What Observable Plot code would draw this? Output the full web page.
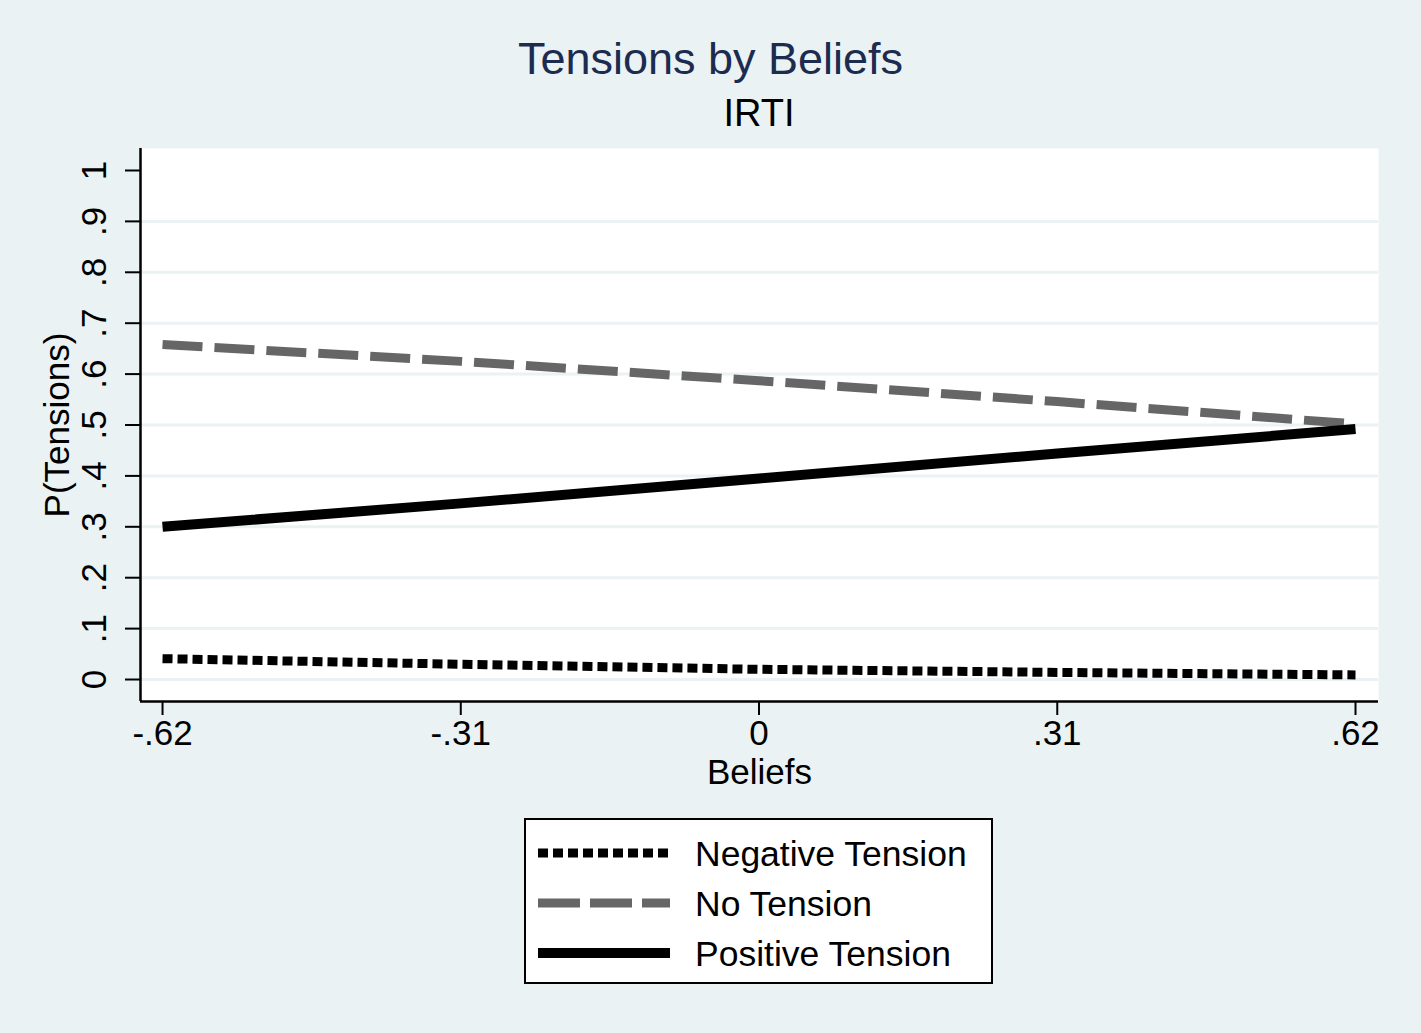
<!DOCTYPE html>
<html><head><meta charset="utf-8">
<script src="https://cdn.jsdelivr.net/npm/d3@7"></script>
<script src="https://cdn.jsdelivr.net/npm/@observablehq/plot@0.6"></script>
<style>
body{margin:0;background:#eaf2f3;width:1421px;height:1033px;position:relative;overflow:hidden;font-family:"Liberation Sans",Arial,sans-serif;}
#title{position:absolute;left:0;top:36px;width:1421px;text-align:center;font-size:45px;line-height:45px;color:#1c2b50;}
#subtitle{position:absolute;left:140px;top:94px;width:1238px;text-align:center;font-size:38px;line-height:38px;color:#000;}
#chart{position:absolute;left:0;top:140px;}
#legend{position:absolute;left:524px;top:818px;width:469px;height:166px;box-sizing:border-box;border:2px solid #000;background:#fff;}
#legend svg{position:absolute;left:-2px;top:-2px;overflow:visible;}
</style></head><body>
<div id="title">Tensions by Beliefs</div>
<div id="subtitle">IRTI</div>
<div id="chart"></div>
<div id="legend"></div>
<script>
const beliefs = [-0.62, -0.31, 0, 0.31, 0.62];
const negativeTension = [0.041, 0.030, 0.020, 0.014, 0.009];
const noTension = [0.658, 0.625, 0.587, 0.546, 0.502];
const positiveTension = [0.300, 0.346, 0.395, 0.444, 0.492];
const seriesNames = ["Negative Tension", "No Tension", "Positive Tension"];
const xTicks = [-0.62, -0.31, 0, 0.31, 0.62];
const xTickLabels = ["-.62", "-.31", "0", ".31", ".62"];
const yTicks = [0, 0.1, 0.2, 0.3, 0.4, 0.5, 0.6, 0.7, 0.8, 0.9, 1];
const yTickLabels = ["0", ".1", ".2", ".3", ".4", ".5", ".6", ".7", ".8", ".9", "1"];
const gridTicks = [0, 0.1, 0.2, 0.3, 0.4, 0.5, 0.6, 0.7, 0.8, 0.9];

const styles = [
  {stroke: "#000", dash: "10,5", legendDash: "10,5", width: 9},
  {stroke: "#666", dash: "40,12", legendDash: "42,10", width: 9},
  {stroke: "#000", dash: null, legendDash: null, width: 10}
];
const allValues = [negativeTension, noTension, positiveTension];
const series = seriesNames.map((name, k) => ({name, ...styles[k],
  data: beliefs.map((b, i) => ({x: b, y: allValues[k][i]}))}));

const xDomain = [-0.6429, 0.6439];
const yDomain = [-0.0432, 1.0432];

const chart = Plot.plot({
  width: 1421,
  height: 650,
  marginTop: 8,
  marginLeft: 140,
  marginRight: 43,
  marginBottom: 89,
  style: {fontFamily: "Liberation Sans, Arial, sans-serif", fontSize: "35px", background: "transparent", overflow: "visible", color: "#000"},
  x: {domain: xDomain, axis: null},
  y: {domain: yDomain, axis: null},
  marks: [
    Plot.frame({fill: "white", stroke: "none"}),
    Plot.gridY(gridTicks, {stroke: "#eaf2f3", strokeOpacity: 1, strokeWidth: 3}),
    ...series.map(s => Plot.line(s.data, {x: "x", y: "y", stroke: s.stroke, strokeWidth: s.width,
      strokeDasharray: s.dash, strokeLinecap: "butt", strokeLinejoin: "round"})),
    Plot.ruleX([xDomain[0]], {stroke: "#000", strokeWidth: 2.5}),
    Plot.ruleY([yDomain[0]], {stroke: "#000", strokeWidth: 2.5}),
    Plot.axisY(yTicks, {anchor: "left", tickSize: 15, tickFormat: () => "", strokeWidth: 2, label: null}),
    Plot.axisX(xTicks, {anchor: "bottom", tickSize: 14, tickFormat: () => "", strokeWidth: 2, label: null}),
    Plot.text(yTicks, {y: d => d, frameAnchor: "left", dx: -46, rotate: -90, textAnchor: "middle", lineAnchor: "middle",
      text: (d, i) => yTickLabels[i], fontSize: 35}),
    Plot.text(xTicks, {x: d => d, frameAnchor: "bottom", dy: 19, lineAnchor: "top", textAnchor: "middle",
      text: (d, i) => xTickLabels[i], fontSize: 35}),
    Plot.text(["Beliefs"], {frameAnchor: "bottom", dy: 71, lineAnchor: "middle", textAnchor: "middle", fontSize: 35}),
    Plot.text(["P(Tensions)"], {frameAnchor: "left", dx: -83, rotate: -90, lineAnchor: "middle", textAnchor: "middle", fontSize: 35})
  ]
});
document.getElementById("chart").appendChild(chart);

// legend
const ns = "http://www.w3.org/2000/svg";
const lsvg = document.createElementNS(ns, "svg");
lsvg.setAttribute("width", 469);
lsvg.setAttribute("height", 166);
series.forEach((s, i) => {
  const cy = 35 + i * 50;
  const ln = document.createElementNS(ns, "line");
  ln.setAttribute("x1", 14); ln.setAttribute("x2", 146);
  ln.setAttribute("y1", cy); ln.setAttribute("y2", cy);
  ln.setAttribute("stroke", s.stroke);
  ln.setAttribute("stroke-width", s.width);
  if (s.legendDash) ln.setAttribute("stroke-dasharray", s.legendDash);
  lsvg.appendChild(ln);
  const tx = document.createElementNS(ns, "text");
  tx.setAttribute("x", 171); tx.setAttribute("y", cy + 13);
  tx.setAttribute("font-size", 35.5);
  tx.setAttribute("font-family", "Liberation Sans, Arial, sans-serif");
  tx.textContent = s.name;
  lsvg.appendChild(tx);
});
document.getElementById("legend").appendChild(lsvg);
</script>
</body></html>
